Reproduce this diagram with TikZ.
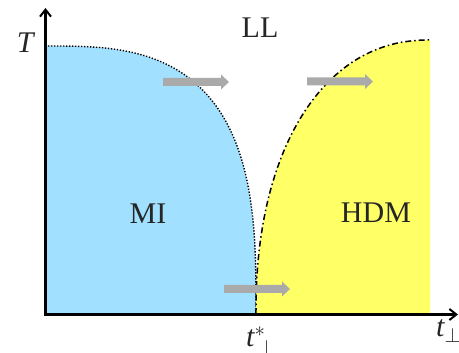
\documentclass[tikz,border=0pt]{standalone}
\usepackage{fontspec}
\setmainfont{Liberation Serif}
\usetikzlibrary{arrows.meta}
\definecolor{miblue}{RGB}{162,224,255}
\definecolor{hdmyellow}{RGB}{255,255,102}
\definecolor{arrowgray}{RGB}{170,170,170}
\tikzset{
  lbl/.style={font=\fontsize{30}{36}\selectfont, inner sep=0pt, text=black!85},
  axislbl/.style={font=\fontsize{30}{36}\selectfont, inner sep=0pt, text=black!85},
  axisline/.style={line width=2.4pt, line join=miter},
  grayarrow/.pic={\fill[arrowgray] (0,-4) -- (58,-4) -- (58,-7.5) -- (66,0) -- (58,7.5) -- (58,4) -- (0,4) -- cycle;},
  miedge/.style={line width=1.4pt, dash pattern=on 1.3pt off 1.7pt},
  hdmedge/.style={line width=1.5pt, dash pattern=on 6pt off 3pt on 1.5pt off 3pt}
}
\begin{document}
\begin{tikzpicture}[x=1pt,y=-1pt]
\useasboundingbox (0,0) rectangle (459,353);
% MI region
\fill[miblue] (45,314) -- (45,46) -- plot[domain=89.5:0.5, samples=90, variable=\t] ({45+211*pow(cos(\t),2/3)}, {314-268*pow(sin(\t),2/3)}) -- (256,314) -- cycle;
\draw[miedge] (45,46) -- plot[domain=89.5:0.5, samples=90, variable=\t] ({45+211*pow(cos(\t),2/3)}, {314-268*pow(sin(\t),2/3)}) -- (256,314);
% HDM region
\fill[hdmyellow] (256,314) -- plot[domain=0.5:89.5, samples=90, variable=\t] ({430-174*pow(cos(\t),2/2.2)}, {314-274*pow(sin(\t),2/2.2)}) -- (430,40) -- (430,314) -- cycle;
\draw[hdmedge] (256,314) -- plot[domain=0.5:89.5, samples=90, variable=\t] ({430-174*pow(cos(\t),2/2.2)}, {314-274*pow(sin(\t),2/2.2)}) -- (430,40);
% gray arrows
\pic at (163,82) {grayarrow};
\pic at (307,81.5) {grayarrow};
\pic at (224,289) {grayarrow};
% axes
\coordinate (ytip) at (45.5,8);
\coordinate (O) at (45.5,314.5);
\coordinate (xtip) at (458,314.5);
\draw[axisline, {Straight Barb[length=7pt,width=11pt,line width=2pt]}-{Straight Barb[length=7pt,width=11pt,line width=2pt]}] (ytip) -- (O) -- (xtip);
% labels
\node[axislbl] (T) at (26,43) {\textit{T}};
\node[lbl] (LL) at (260,28) {LL};
\node[lbl] (MI) at (148,214) {MI};
\node[lbl] (HDM) at (376,213) {HDM};
\node[axislbl, anchor=base west] (tperp) at (436,337) {$\textit{t}_{\perp}$};
\node[axislbl, anchor=base west] (tstar) at (246,346) {$\textit{t}^{*}_{\hspace{4pt}\raisebox{-2pt}{$\scriptstyle\perp$}}$};
\end{tikzpicture}
\end{document}
